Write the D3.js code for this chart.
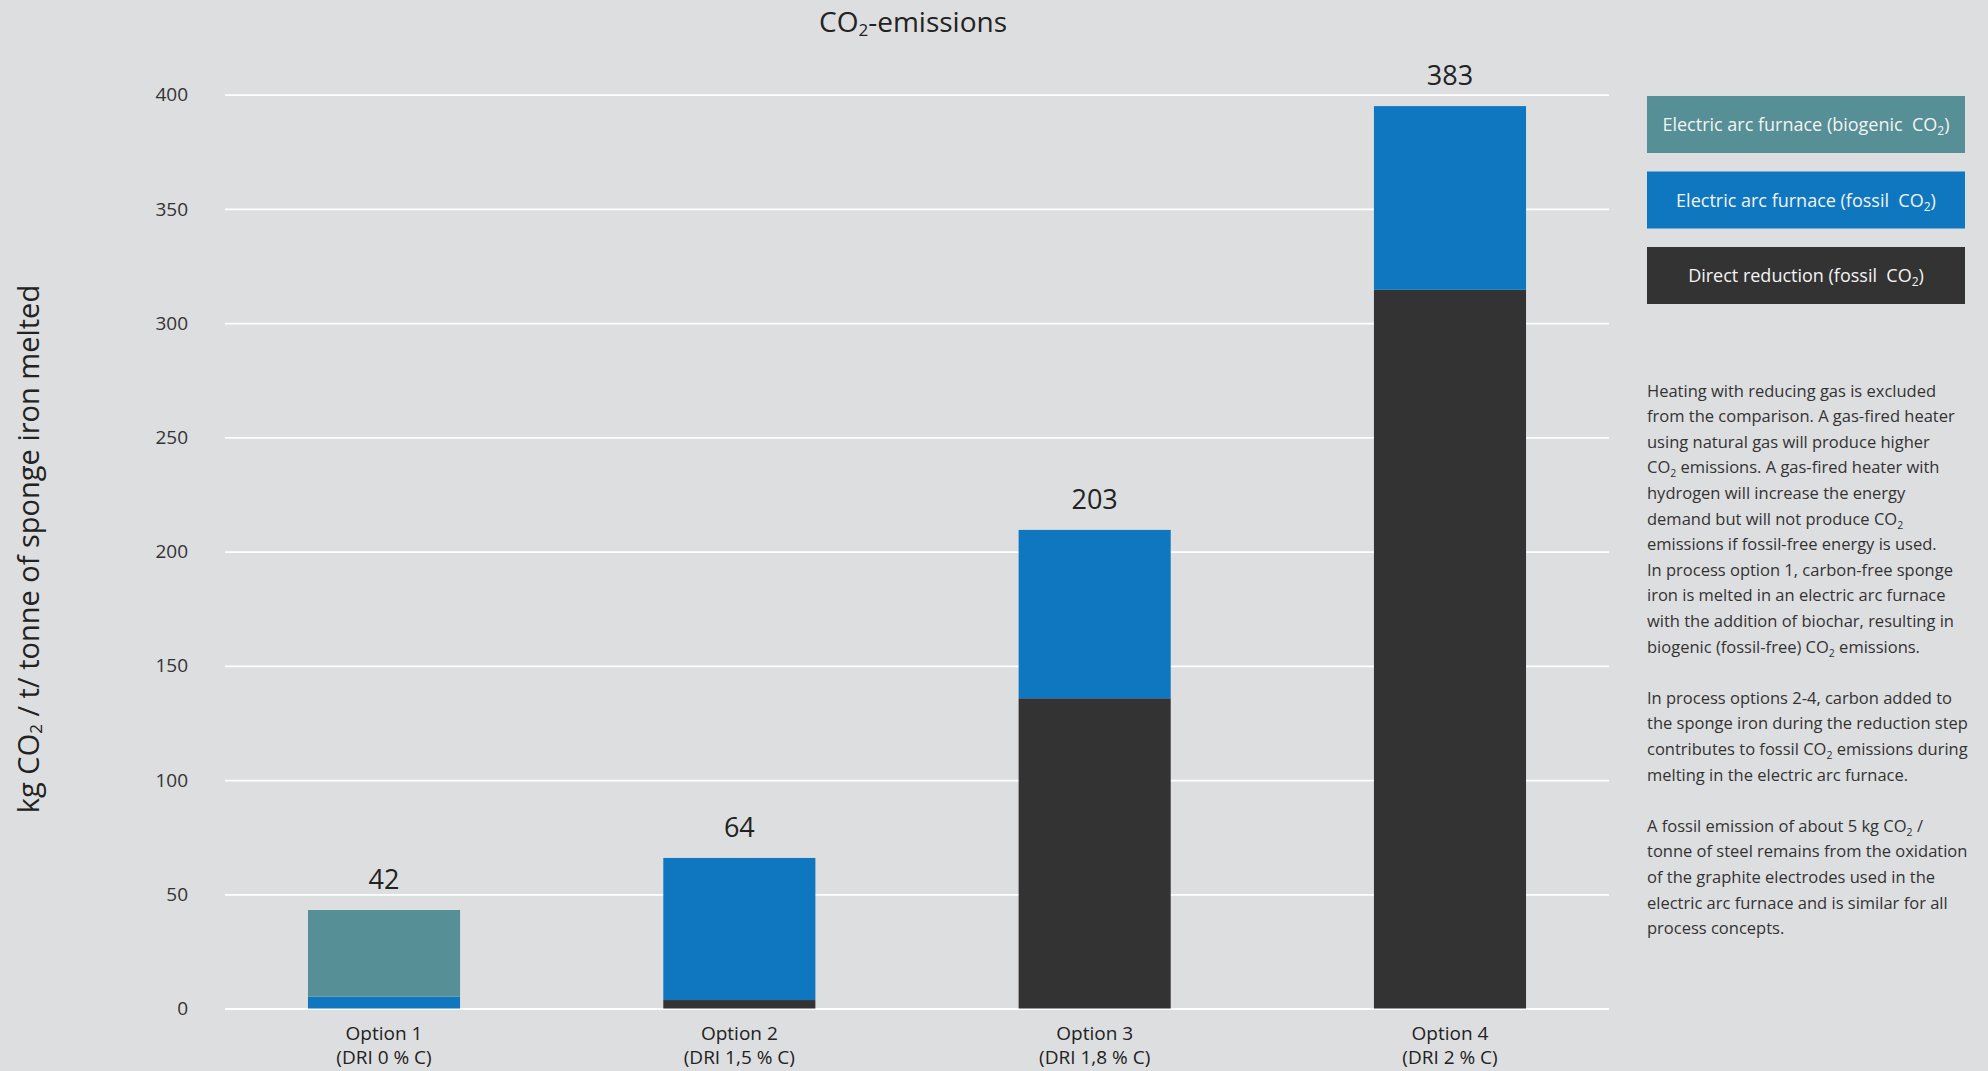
<!DOCTYPE html>
<html>
<head>
<meta charset="utf-8">
<script src="https://cdn.jsdelivr.net/npm/d3@7"></script>
<style>
  html, body { margin: 0; padding: 0; background: #dddee0; }
  svg { display: block; }
  text { font-family: "Open Sans", "Noto Sans", sans-serif; }
</style>
</head>
<body>
<svg id="chart" width="1988" height="1071"></svg>
<script>
// ---------- data ----------
const categories = ["Option 1", "Option 2", "Option 3", "Option 4"];
const subLabels = ["(DRI 0 % C)", "(DRI 1,5 % C)", "(DRI 1,8 % C)", "(DRI 2 % C)"];
const directReduction = [0, 3.7, 135.8, 314.6];   // Direct reduction (fossil CO2)
const eafFossil = [5.2, 62.2, 73.7, 80.4];        // Electric arc furnace (fossil CO2)
const eafBiogenic = [37.9, 0, 0, 0];              // Electric arc furnace (biogenic CO2)
const totalLabels = [42, 64, 203, 383];
const yTicks = [0, 50, 100, 150, 200, 250, 300, 350, 400];
const seriesKeys = ["dr", "eafF", "eafB"];
const legendItems = [
  { key: "eafB", label: "Electric arc furnace (biogenic  CO2)" },
  { key: "eafF", label: "Electric arc furnace (fossil  CO2)" },
  { key: "dr",   label: "Direct reduction (fossil  CO2)" }
];
const noteParagraphs = [
  ["Heating with reducing gas is excluded",
   "from the comparison. A gas-fired heater",
   "using natural gas will produce higher",
   "CO2 emissions. A gas-fired heater with",
   "hydrogen will increase the energy",
   "demand but will not produce CO2",
   "emissions if fossil-free energy is used.",
   "In process option 1, carbon-free sponge",
   "iron is melted in an electric arc furnace",
   "with the addition of biochar, resulting in",
   "biogenic (fossil-free) CO2 emissions."],
  ["In process options 2-4, carbon added to",
   "the sponge iron during the reduction step",
   "contributes to fossil CO2 emissions during",
   "melting in the electric arc furnace."],
  ["A fossil emission of about 5 kg CO2 /",
   "tonne of steel remains from the oxidation",
   "of the graphite electrodes used in the",
   "electric arc furnace and is similar for all",
   "process concepts."]
];
const titleText = "CO2-emissions";
const yLabelText = "kg CO2 / t/ tonne of sponge iron melted";

// ---------- styles ----------
const colors = { dr: "#333333", eafF: "#0e77bf", eafB: "#568f96" };

const svg = d3.select("#chart");
const plot = { left: 225, right: 1609, top: 94.7, bottom: 1008.5 };

const x = d3.scaleBand()
  .domain(categories)
  .range([plot.left, plot.right])
  .paddingInner(0.572)
  .paddingOuter(0.2335);

const y = d3.scaleLinear()
  .domain([0, 400])
  .range([plot.bottom, plot.top]);

// rich text helper: renders "CO2" with subscript 2
function richText(sel, str, subSize, shift) {
  const parts = str.split("CO2");
  let pendingDy = 0;
  parts.forEach((p, i) => {
    if (p.length) {
      const t = sel.append("tspan").text(p);
      if (pendingDy) { t.attr("dy", pendingDy); pendingDy = 0; }
    }
    if (i < parts.length - 1) {
      const c = sel.append("tspan").text("CO");
      if (pendingDy) { c.attr("dy", pendingDy); pendingDy = 0; }
      sel.append("tspan").attr("dy", shift).style("font-size", subSize + "px").text("2");
      pendingDy = -shift;
    }
  });
}

// ---------- gridlines ----------
const grid = svg.append("g")
  .attr("transform", `translate(${plot.left},0)`)
  .call(d3.axisLeft(y).tickValues(yTicks).tickSize(-(plot.right - plot.left)).tickFormat(""));
grid.select(".domain").remove();
grid.selectAll(".tick line").attr("stroke", "#ffffff").attr("stroke-width", 1.8);

// ---------- y axis labels ----------
const yAxis = svg.append("g")
  .attr("transform", `translate(${plot.left},0)`)
  .call(d3.axisLeft(y).tickValues(yTicks).tickSize(0).tickPadding(37));
yAxis.select(".domain").remove();
yAxis.selectAll("text")
  .attr("fill", "#333")
  .style("font-size", "19px")
  .style("font-family", "'Open Sans', sans-serif");

// ---------- bars ----------
const rows = categories.map((c, i) => ({
  cat: c, dr: directReduction[i], eafF: eafFossil[i], eafB: eafBiogenic[i]
}));
const stacked = d3.stack().keys(seriesKeys)(rows);

svg.append("g").selectAll("g")
  .data(stacked)
  .join("g")
  .attr("fill", d => colors[d.key])
  .selectAll("rect")
  .data(d => d.filter(s => s[1] - s[0] > 0))
  .join("rect")
  .attr("x", d => x(d.data.cat))
  .attr("width", x.bandwidth())
  .attr("y", d => y(d[1]))
  .attr("height", d => y(d[0]) - y(d[1]));

// ---------- value labels ----------
svg.append("g").selectAll("text")
  .data(rows)
  .join("text")
  .attr("x", d => x(d.cat) + x.bandwidth() / 2)
  .attr("y", d => y(d.dr + d.eafF + d.eafB) - 21)
  .attr("text-anchor", "middle")
  .attr("fill", "#222")
  .style("font-size", "27px")
  .text((d, i) => totalLabels[i]);

// ---------- x axis labels ----------
const xAxis = svg.append("g")
  .attr("transform", `translate(0,${plot.bottom})`)
  .call(d3.axisBottom(x).tickSize(0).tickPadding(0));
xAxis.select(".domain").remove();
xAxis.selectAll(".tick text").each(function(d, i) {
  const t = d3.select(this);
  t.text(null).attr("y", 0).attr("dy", null)
    .attr("fill", "#222").style("font-size", "19px")
    .style("font-family", "'Open Sans', sans-serif");
  t.append("tspan").attr("x", 0).attr("y", 31).text(d);
  t.append("tspan").attr("x", 0).attr("y", 55).text(subLabels[i]);
});

// ---------- title ----------
const title = svg.append("text")
  .attr("x", 913).attr("y", 32)
  .attr("text-anchor", "middle")
  .attr("fill", "#222")
  .style("font-size", "28px");
richText(title, titleText, 17, 4);

// ---------- y axis title ----------
const yTitle = svg.append("text")
  .attr("transform", "translate(39,549) rotate(-90)")
  .attr("text-anchor", "middle")
  .attr("fill", "#222")
  .style("font-size", "29px");
richText(yTitle, yLabelText, 17, 3);

// ---------- legend ----------
const legend = svg.append("g").attr("transform", "translate(1647,96)");
const li = legend.selectAll("g")
  .data(legendItems)
  .join("g")
  .attr("transform", (d, i) => `translate(0,${i * 75.5})`);
li.append("rect")
  .attr("width", 318).attr("height", 57)
  .attr("fill", d => colors[d.key]);
li.append("text")
  .attr("x", 159).attr("y", 35)
  .attr("text-anchor", "middle")
  .attr("fill", "#f3f3f3")
  .style("font-size", "18px")
  .style("white-space", "pre")
  .each(function(d) { richText(d3.select(this), d.label, 12, 4); });

// ---------- notes ----------
const notes = svg.append("g").attr("transform", "translate(1647,0)");
let lineIdx = 0;
const baseY = 396.5, step = 25.6;
noteParagraphs.forEach((para, pi) => {
  para.forEach(line => {
    const t = notes.append("text")
      .attr("x", 0)
      .attr("y", baseY + lineIdx * step)
      .attr("fill", "#333")
      .style("font-size", "16.5px");
    richText(t, line, 10.5, 4);
    lineIdx++;
  });
  lineIdx++; // blank line between paragraphs
});
</script>
</body>
</html>
